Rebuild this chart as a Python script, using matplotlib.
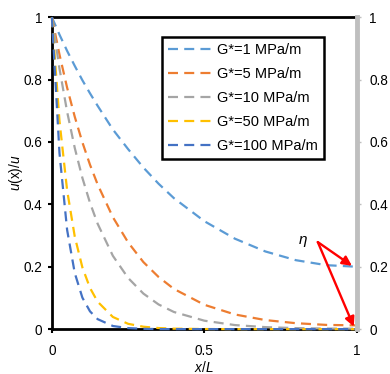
import matplotlib
matplotlib.use("Agg")
import matplotlib.pyplot as plt

plt.rcParams['font.family'] = ['Liberation Sans', 'DejaVu Sans']
plt.rcParams['mathtext.fontset'] = 'custom'
plt.rcParams['mathtext.rm'] = 'Liberation Sans'
plt.rcParams['mathtext.it'] = 'Liberation Sans:italic'

# normalised position along the bond, x/L
x_pos = [0, 0.025, 0.05, 0.075, 0.1, 0.125, 0.15, 0.2, 0.25, 0.3, 0.35,
         0.4, 0.5, 0.6, 0.7, 0.8, 0.9, 1.0]

# u(x)/u
u_g1 = [1.0, 0.944, 0.892, 0.844, 0.798, 0.756, 0.716, 0.640, 0.577, 0.518,
        0.466, 0.420, 0.346, 0.290, 0.249, 0.221, 0.205, 0.200]
u_g5 = [1.0, 0.880, 0.774, 0.681, 0.599, 0.527, 0.464, 0.359, 0.278, 0.215,
        0.167, 0.129, 0.078, 0.047, 0.029, 0.019, 0.0135, 0.012]
u_g10 = [1.0, 0.835, 0.697, 0.581, 0.485, 0.405, 0.338, 0.235, 0.164, 0.114,
         0.079, 0.055, 0.027, 0.013, 0.0064, 0.0032, 0.0018, 0.0014]
u_g50 = [1.0, 0.667, 0.445, 0.297, 0.198, 0.132, 0.088, 0.039, 0.017, 0.0077,
         0.0034, 0.0015, 0.0003, 0, 0, 0, 0, 0]
u_g100 = [1.0, 0.564, 0.318, 0.180, 0.101, 0.057, 0.032, 0.010, 0.0033, 0.001,
          0, 0, 0, 0, 0, 0, 0, 0]

series = [u_g1, u_g5, u_g10, u_g50, u_g100]
labels = ['G*=1 MPa/m', 'G*=5 MPa/m', 'G*=10 MPa/m', 'G*=50 MPa/m', 'G*=100 MPa/m']
colors = ['#5B9BD5', '#ED7D31', '#A5A5A5', '#FFC000', '#4472C4']

y_ticks = [0, 0.2, 0.4, 0.6, 0.8, 1]
y_tick_labels = ['0', '0.2', '0.4', '0.6', '0.8', '1']
x_ticks = [0, 0.5, 1]
x_tick_labels = ['0', '0.5', '1']

fig = plt.figure(figsize=(3.9, 3.74), dpi=100)
ax = fig.add_axes([0.133, 0.120, 0.782, 0.834])

for vals, lab, col in zip(series, labels, colors):
    ax.plot(x_pos, vals, color=col, lw=1.6, dashes=(4.5, 2.8), label=lab,
            clip_on=False, zorder=3)

ax.set_xlim(0, 1)
ax.set_ylim(0, 1)
ax.set_xticks(x_ticks)
ax.set_xticklabels(x_tick_labels)
ax.set_yticks(y_ticks)
ax.set_yticklabels(y_tick_labels)
ax.tick_params(labelsize=9.8, length=3, width=1.5, direction='out')
ax.tick_params(axis='y', pad=4)
ax.tick_params(axis='x', pad=8)

for side in ['left', 'bottom', 'top']:
    ax.spines[side].set_color('black')
    ax.spines[side].set_linewidth(2)
ax.spines['right'].set_visible(False)

ax.set_xlabel('$x$/$L$', fontsize=9.8, labelpad=1)
ax.set_ylabel('$u$(x)/$u$', fontsize=9.8, labelpad=-1)

# secondary axis on the right
ax2 = ax.twinx()
ax2.set_ylim(0, 1)
ax2.set_yticks(y_ticks)
ax2.set_yticklabels(y_tick_labels)
ax2.tick_params(labelsize=9.8, length=3, width=1, color='#BFBFBF', pad=6)
for side in ['left', 'bottom', 'top']:
    ax2.spines[side].set_visible(False)
ax2.spines['right'].set_color('#BFBFBF')
ax2.spines['right'].set_linewidth(3.5)

leg = ax.legend(loc='upper left', bbox_to_anchor=(0.361, 0.935),
                borderaxespad=0, fontsize=10.5, fancybox=False, framealpha=1,
                edgecolor='black', handlelength=3.2, handletextpad=0.2,
                labelspacing=0.68, borderpad=0.4)
leg.get_frame().set_linewidth(1.8)
leg.set_zorder(5)

# eta annotation with two arrows
ax.text(0.823, 0.285, 'η', style='italic', fontsize=11, ha='center', va='center')
start = (0.872, 0.279)
for tip in [(0.984, 0.203), (0.99, 0.008)]:
    ax.annotate('', xy=tip, xytext=start,
                arrowprops=dict(arrowstyle='-|>', color='red', lw=1.7,
                                mutation_scale=14, shrinkA=0, shrinkB=0))

fig.savefig('out.png', dpi=100)
